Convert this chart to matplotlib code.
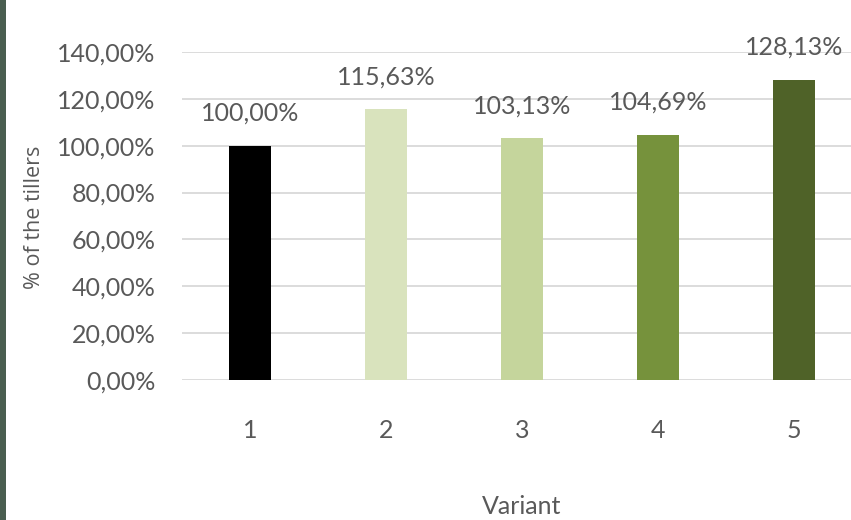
import matplotlib
matplotlib.use("Agg")
import matplotlib.pyplot as plt
from matplotlib.patches import Rectangle
from matplotlib.ticker import FuncFormatter

categories = ["1", "2", "3", "4", "5"]
values = [100.00, 115.63, 103.13, 104.69, 128.13]
colors = ["#000000", "#d9e3bd", "#c5d59c", "#76923c", "#4f6228"]
y_ticks = [0, 20, 40, 60, 80, 100, 120, 140]

W, H = 851, 520
fig = plt.figure(figsize=(W / 100, H / 100), dpi=100)
fig.patches.append(Rectangle((0, 0), 6 / W, 1, transform=fig.transFigure,
                             facecolor="#4a5e50", edgecolor="none", zorder=0))

left, right = 182, 862
bottom, top = 380, 52
ax = fig.add_axes([left / W, 1 - bottom / H, (right - left) / W, (bottom - top) / H])

txt = "#595959"
font = "Lato"
x = list(range(len(categories)))
ax.bar(x, values, width=0.31, color=colors, zorder=3)
ax.set_xlim(-0.5, 4.5)
ax.set_ylim(0, 140)
ax.set_yticks(y_ticks)
ax.yaxis.set_major_formatter(FuncFormatter(lambda v, p: f"{v:.2f}%".replace(".", ",")))
ax.set_xticks(x)
ax.set_xticklabels(categories)
ax.grid(axis="y", color="#d9d9d9", linewidth=1.3, zorder=0)
for s in ax.spines.values():
    s.set_visible(False)
ax.tick_params(axis="both", length=0, labelsize=18, labelcolor=txt)
ax.tick_params(axis="y", pad=19)
ax.tick_params(axis="x", pad=28)
for lab in ax.get_xticklabels() + ax.get_yticklabels():
    lab.set_fontfamily(font)

for xi, v in zip(x, values):
    ax.annotate(f"{v:.2f}%".replace(".", ","), (xi, v), xytext=(0, 15),
                textcoords="offset points", ha="center", va="bottom",
                fontsize=18, color=txt, fontfamily=font)

ax.set_xlabel("Variant", fontsize=18, color=txt, fontfamily=font, labelpad=38)
fig.text(35 / W, 1 - 217 / H, "% of the tillers", rotation=90, ha="center", va="center",
         fontsize=15.5, color=txt, fontfamily="Open Sans")

fig.savefig("out.png", dpi=100, facecolor="white")
